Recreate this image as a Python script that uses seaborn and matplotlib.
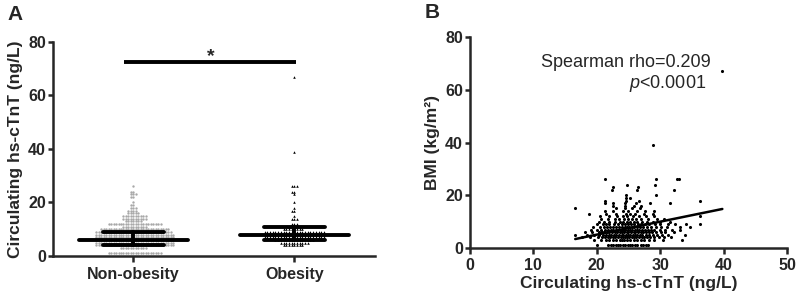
import numpy as np
import pandas as pd
import seaborn as sns
import matplotlib.pyplot as plt

# Panel A: hs-cTnT levels (ng/L) and how many subjects sit on each level
groups = ["Non-obesity", "Obesity"]
nonob_levels = [1, 3, 4, 5, 6, 7, 8, 9, 10, 11, 12, 13, 14, 15, 16, 17, 18, 19, 20, 22, 23, 24, 26]
nonob_counts = [22, 11, 32, 32, 32, 32, 32, 31, 28, 10, 22, 7, 10, 10, 5, 4, 3, 2, 1, 2, 3, 2, 1]
ob_levels = [4, 5, 6, 7, 8, 9, 10, 11, 12, 14, 15, 17, 18, 20, 23, 24, 26, 39, 67]
ob_counts = [8, 11, 15, 23, 23, 23, 8, 5, 3, 3, 1, 2, 1, 1, 1, 2, 3, 1, 1]
# lower quartile, median, upper quartile as drawn
nonob_iqr = [4, 6, 9]
ob_iqr = [6, 8, 11]

# Panel B: hs-cTnT level and the BMI of every dot on that level
b_levels = [1, 3, 4, 5, 6, 7, 8, 9, 10, 11, 12, 13, 14, 15, 16, 17, 18, 19, 20, 22, 23, 24, 26, 39, 67]
b_bmi = [
    [20.1, 21.8, 22.2, 22.6, 23.0, 23.3, 23.7, 24.1, 24.4, 24.9, 25.2, 25.6, 26.0, 26.4, 26.9, 27.3, 27.7, 28.1],
    [19.5, 20.6, 21.4, 21.9, 22.5, 23.1, 23.6, 24.0, 24.3, 24.7, 25.2, 25.8, 26.3, 26.9, 27.5, 28.2, 29.0, 30.4, 33.4],
    [17.6, 19.0, 20.2, 20.9, 21.3, 21.7, 22.1, 22.6, 22.9, 23.3, 23.8, 24.1, 24.5, 24.8, 25.1, 25.5, 25.9, 26.2,
     26.6, 27.1, 27.5, 27.9, 28.4, 29.1, 29.8, 30.6, 31.7],
    [16.6, 18.4, 19.6, 20.4, 21.0, 21.5, 21.9, 22.3, 22.7, 23.1, 23.5, 23.9, 24.2, 24.6, 24.9, 25.3, 25.7, 26.0,
     26.4, 26.8, 27.2, 27.7, 28.3, 28.8, 29.5, 30.3, 31.2, 33.9],
    [18.2, 19.3, 20.3, 20.8, 21.2, 21.6, 22.0, 22.4, 22.8, 23.2, 23.6, 24.0, 24.3, 24.7, 25.0, 25.4, 25.8, 26.1,
     26.5, 26.9, 27.3, 27.8, 28.2, 28.7, 29.3, 30.1, 30.8, 32.2],
    [19.1, 20.0, 20.7, 21.3, 21.8, 22.2, 22.6, 23.0, 23.4, 23.8, 24.2, 24.5, 24.9, 25.2, 25.6, 26.0, 26.3, 26.7,
     27.1, 27.6, 28.0, 28.5, 29.1, 29.9, 30.7, 31.9, 33.1],
    [19.4, 20.5, 21.1, 21.6, 22.1, 22.5, 23.0, 23.5, 23.9, 24.4, 24.8, 25.1, 25.5, 25.9, 26.4, 26.8, 27.3, 27.9,
     28.6, 29.4, 30.2, 31.1, 33.2, 34.7],
    [20.1, 21.0, 21.5, 22.0, 22.7, 23.3, 23.9, 24.5, 25.0, 25.4, 25.9, 26.5, 27.0, 27.6, 28.3, 29.2, 30.0, 31.3,
     32.4, 34.0, 36.3],
    [20.3, 21.2, 22.0, 22.9, 23.6, 24.2, 24.7, 25.3, 25.8, 26.4, 27.1, 27.9, 28.8, 29.9, 31.5],
    [20.6, 21.7, 22.8, 23.5, 24.3, 24.9, 25.6, 26.2, 27.0, 28.0, 29.5, 30.6],
    [20.5, 21.9, 23.2, 24.1, 24.8, 25.7, 26.6, 27.8, 29.0, 36.3],
    [18.7, 21.4, 23.0, 24.6, 25.3, 26.1, 27.4, 28.9],
    [21.3, 22.6, 24.2, 25.0, 26.3, 27.6, 29.1],
    [16.6, 23.1, 24.5, 25.5, 26.8],
    [22.5, 24.4, 25.8, 27.0],
    [21.3, 22.6, 24.4, 26.2, 28.4, 31.5],
    [21.3, 24.6, 26.6, 36.3],
    [24.6, 25.3],
    [24.6, 29.3],
    [22.4, 26.3, 32.1],
    [22.6, 26.5],
    [24.8, 29.2],
    [21.3, 29.4, 32.6, 33.0],
    [28.9],
    [39.8],
]
# ends of the fitted line
fit_bmi = [16.6, 39.8]
fit_tnt = [3.4, 14.8]

sns.set_style("ticks")
plt.rcParams["font.family"] = ["Liberation Sans", "DejaVu Sans"]
plt.rcParams["mathtext.fontset"] = "custom"
plt.rcParams["mathtext.rm"] = "Liberation Sans"
plt.rcParams["mathtext.it"] = "Liberation Sans:italic"
plt.rcParams["axes.linewidth"] = 1.8
plt.rcParams["xtick.major.width"] = 1.8
plt.rcParams["ytick.major.width"] = 1.8
plt.rcParams["xtick.major.size"] = 4
plt.rcParams["ytick.major.size"] = 3.8

nonob = pd.DataFrame({"group": groups[0], "tnt": np.repeat(nonob_levels, nonob_counts)})
ob = pd.DataFrame({"group": groups[1], "tnt": np.repeat(ob_levels, ob_counts)})

fig = plt.figure(figsize=(7.99, 3.0), dpi=100)
axA = fig.add_axes([0.0663, 0.1467, 0.4027, 0.7133])
axB = fig.add_axes([0.5882, 0.1733, 0.3968, 0.7033])

# --- A
axA.set_xlim(-0.5, 1.5)
axA.set_ylim(0, 80)
sns.swarmplot(data=nonob, x="group", y="tnt", order=groups, color="#a8a8a8",
              size=1.7, linewidth=0, ax=axA, zorder=2)
sns.swarmplot(data=ob, x="group", y="tnt", order=groups, color="black", marker="^",
              size=1.85, linewidth=0, ax=axA, zorder=2)
for i, (q1, med, q3) in enumerate([nonob_iqr, ob_iqr]):
    axA.plot([i - 0.34, i + 0.34], [med, med], color="black", lw=2.8, zorder=4)
    axA.plot([i - 0.19, i + 0.19], [q1, q1], color="black", lw=2.8, zorder=4)
    axA.plot([i - 0.19, i + 0.19], [q3, q3], color="black", lw=2.8, zorder=4)
    axA.plot([i, i], [q1, q3], color="black", lw=2.8, zorder=4)
axA.plot([-0.06, 1.01], [72.5, 72.5], color="black", lw=2.8, solid_capstyle="butt")
axA.text(0.48, 74.5, "*", ha="center", va="center", fontsize=14, fontweight="bold")
axA.set_xlim(-0.5, 1.5)
axA.set_ylim(0, 80)
axA.set_yticks([0, 20, 40, 60, 80])
axA.set_xlabel("")
axA.set_ylabel("Circulating hs-cTnT (ng/L)", fontsize=12.5, fontweight="bold", labelpad=4)
axA.tick_params(axis="y", labelsize=11.5, pad=1.2)
axA.tick_params(axis="x", labelsize=11.5, pad=3.6)
for lab in axA.get_xticklabels() + axA.get_yticklabels():
    lab.set_fontweight("bold")
sns.despine(ax=axA)

# --- B
scatter = pd.DataFrame({
    "bmi": [b for row in b_bmi for b in row],
    "tnt": [lv for lv, row in zip(b_levels, b_bmi) for _ in row],
})
sns.scatterplot(data=scatter, x="bmi", y="tnt", color="black", s=5, linewidth=0, ax=axB)
sns.lineplot(x=fit_bmi, y=fit_tnt, color="black", lw=1.8, ax=axB)
axB.text(37.9, 70.5, "Spearman rho=0.209", ha="right", va="center", fontsize=13)
axB.text(37.2, 62.5, r"$\it{p}$<0.0001", ha="right", va="center", fontsize=13)
axB.set_xlim(0, 50)
axB.set_ylim(0, 80)
axB.set_xticks([0, 10, 20, 30, 40, 50])
axB.set_yticks([0, 20, 40, 60, 80])
axB.set_xlabel("Circulating hs-cTnT (ng/L)", fontsize=12.5, fontweight="bold", labelpad=2)
axB.set_ylabel("BMI (kg/m²)", fontsize=12.5, fontweight="bold", labelpad=4)
axB.tick_params(axis="both", labelsize=11.5)
axB.tick_params(axis="y", pad=1.2)
axB.tick_params(axis="x", pad=3.2)
for lab in axB.get_xticklabels() + axB.get_yticklabels():
    lab.set_fontweight("bold")
sns.despine(ax=axB)

fig.text(0.009, 0.985, "A", ha="left", va="top", fontsize=15, fontweight="bold")
fig.text(0.532, 0.99, "B", ha="left", va="top", fontsize=15, fontweight="bold")

fig.savefig("out.png", dpi=100)
